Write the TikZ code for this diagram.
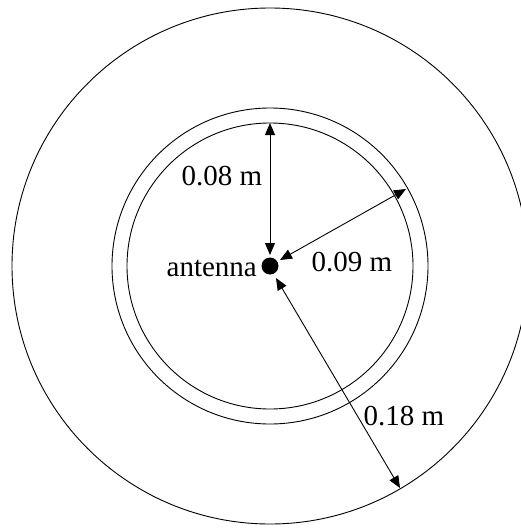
\documentclass[tikz,border=0pt]{standalone}
\usepackage{fontspec}
\setmainfont{Liberation Serif}
\usetikzlibrary{arrows.meta}
\begin{document}
\begin{tikzpicture}[x=1pt,y=-1pt,
  ring/.style={draw=black,line width=0.9pt},
  dim/.style={draw=black,line width=0.9pt,{Triangle[length=12pt,width=10pt]}-{Triangle[length=12pt,width=10pt]}},
  lbl/.style={font=\fontsize{29}{32}\selectfont,inner sep=0pt}]
\useasboundingbox (0,0) rectangle (521,528);
\coordinate (c) at (270,266);
\draw[ring] (c) circle[radius=258];
\draw[ring] (c) circle[radius=158];
\draw[ring] (c) circle[radius=143];
\node[circle,fill=black,minimum size=17pt,inner sep=0pt] (ant) at (c) {};
\node[lbl,anchor=east] (antlbl) at (257,268) {antenna};
\coordinate (p08) at (270,123);
\coordinate (p09) at (406,189);
\coordinate (p18) at (400,488);
\coordinate (q08) at (270,255);
\coordinate (q09) at (280,260);
\coordinate (q18) at (276,278);
\draw[dim] (q08) -- (p08);
\draw[dim] (q09) -- (p09);
\draw[dim] (q18) -- (p18);
\node[lbl] (l08) at (222,176) {0.08 m};
\node[lbl] (l09) at (352,262) {0.09 m};
\node[lbl] (l18) at (404,416) {0.18 m};
\end{tikzpicture}
\end{document}
